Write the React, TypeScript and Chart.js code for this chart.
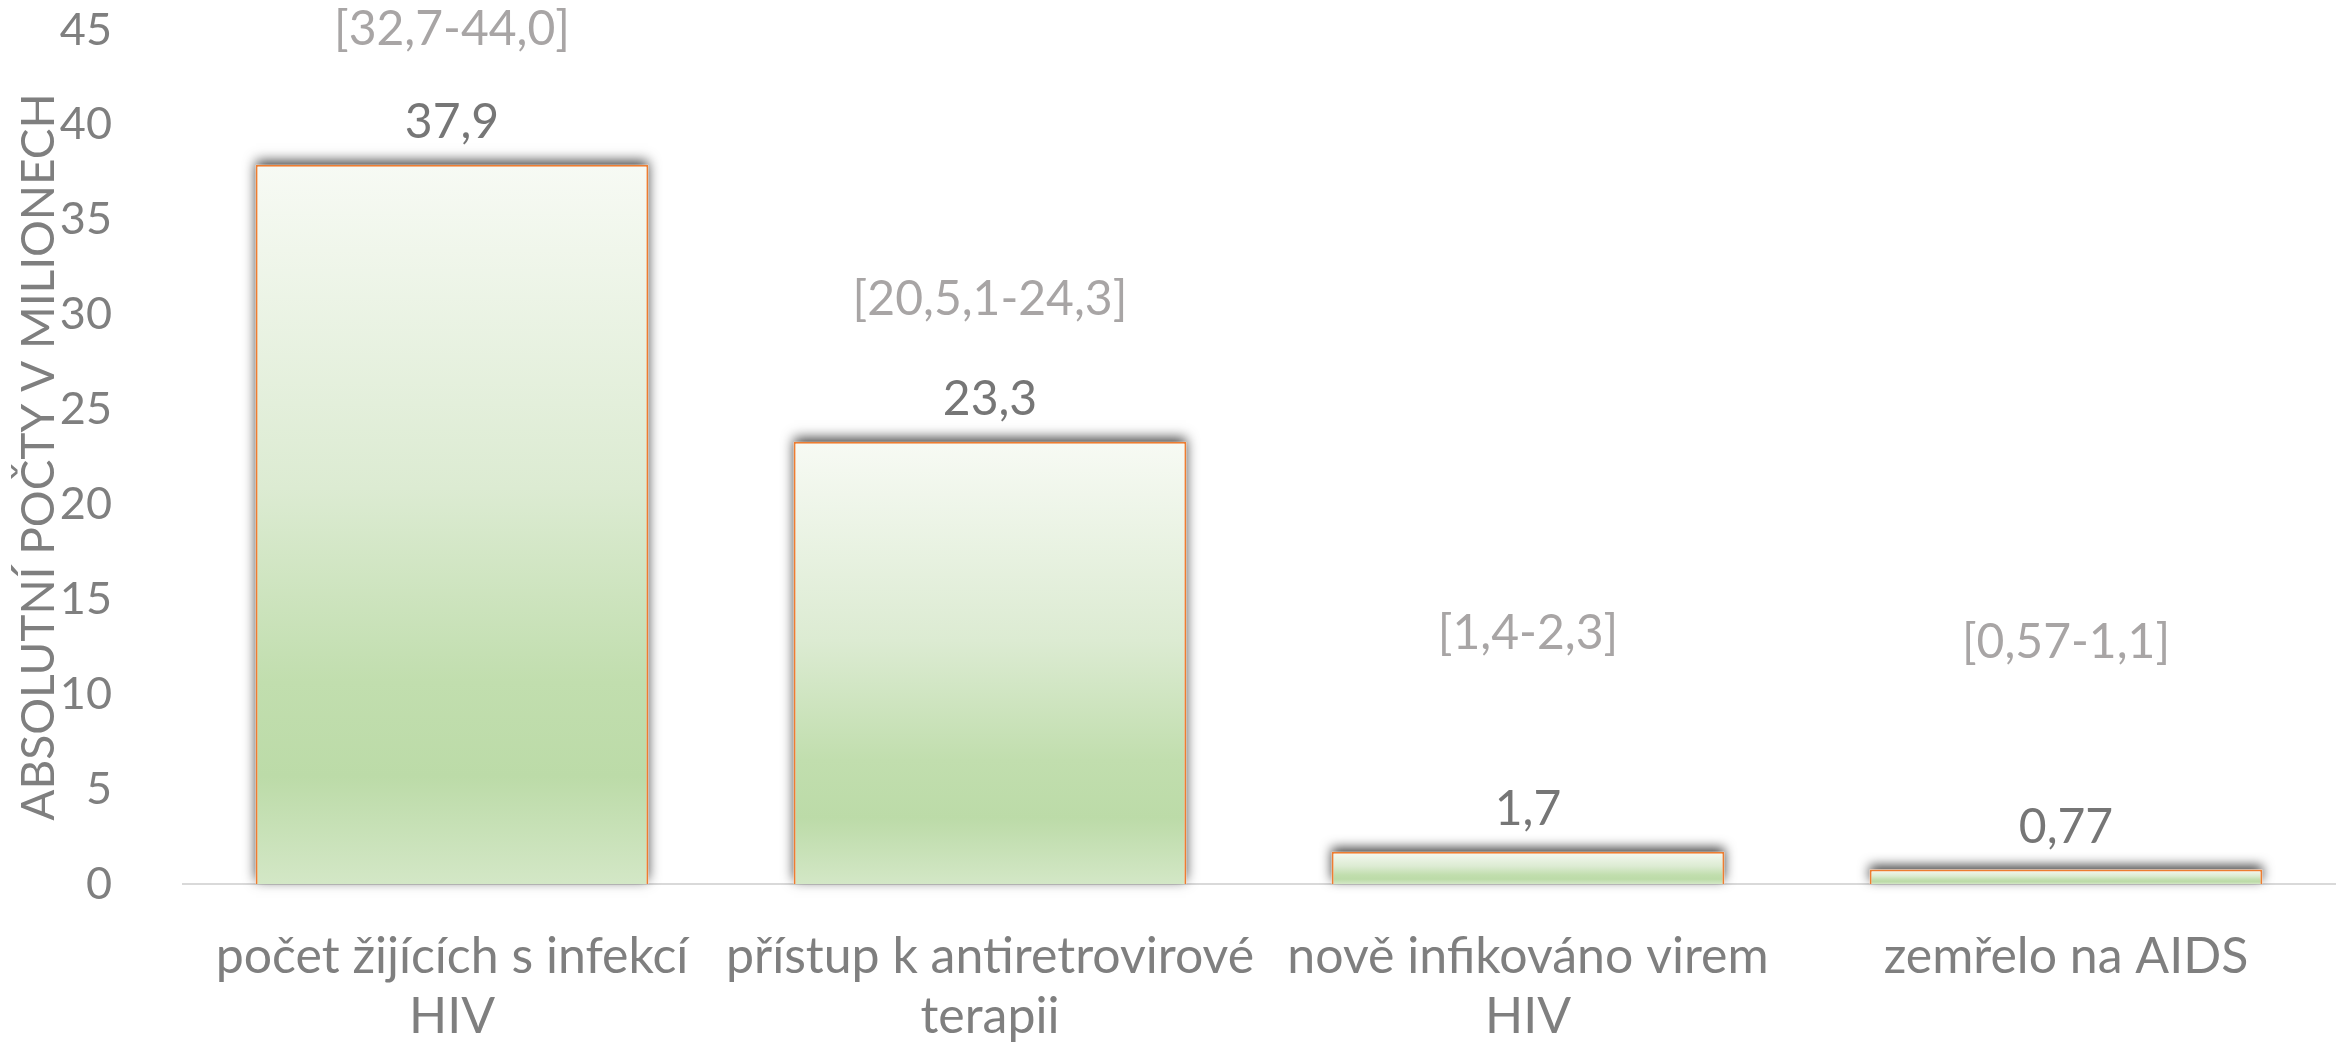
import React, { useEffect, useRef } from 'react';
import { Chart, registerables } from 'chart.js';

Chart.register(...registerables);

// ---- data ----
const categories: (string | string[])[] = [
  ['počet žijících s infekcí', 'HIV'],
  ['přístup k antiretrovirové', 'terapii'],
  ['nově infikováno virem', 'HIV'],
  'zemřelo na AIDS',
];
const values = [37.9, 23.3, 1.7, 0.77];
const valueLabels = ['37,9', '23,3', '1,7', '0,77'];
const rangeLabels = ['[32,7-44,0]', '[20,5,1-24,3]', '[1,4-2,3]', '[0,57-1,1]'];
const rangeLabelLevels = [45.0, 30.8, 13.2, 12.75];
const yMin = 0;
const yMax = 45;
const yStep = 5;
const axisTitle = 'ABSOLUTNÍ POČTY V MILIONECH';

const FONT = 'Lato';
const TICK_COLOR = '#7f7f7f';

const shadowPlugin = {
  id: 'barShadow',
  beforeDatasetsDraw(chart: any) {
    const ctx = chart.ctx;
    const meta = chart.getDatasetMeta(0);
    ctx.save();
    ctx.shadowColor = 'rgba(0,0,0,0.75)';
    ctx.shadowBlur = 12;
    ctx.shadowOffsetY = -4;
    ctx.fillStyle = '#ffffff';
    meta.data.forEach((bar: any) => {
      const { x, y, base, width } = bar.getProps(['x', 'y', 'base', 'width'], true);
      ctx.fillRect(x - width / 2, y, width, base - y);
    });
    ctx.restore();
  },
};

const labelPlugin = {
  id: 'barLabels',
  afterDatasetsDraw(chart: any) {
    const ctx = chart.ctx;
    const meta = chart.getDatasetMeta(0);
    const yScale = chart.scales.y;
    ctx.save();
    ctx.textAlign = 'center';
    ctx.textBaseline = 'middle';
    meta.data.forEach((bar: any, i: number) => {
      const { x, y } = bar.getProps(['x', 'y'], true);
      ctx.font = `48px ${FONT}`;
      ctx.fillStyle = '#767676';
      ctx.fillText(valueLabels[i], x, y - 42);
      ctx.fillStyle = '#a8a5a5';
      ctx.fillText(rangeLabels[i], x, yScale.getPixelForValue(rangeLabelLevels[i]));
    });
    ctx.restore();
  },
};

export default function App() {
  const canvasRef = useRef<HTMLCanvasElement | null>(null);

  useEffect(() => {
    if (!canvasRef.current) return;
    const chart = new Chart(canvasRef.current, {
      type: 'bar',
      data: {
        labels: categories,
        datasets: [
          {
            data: values,
            backgroundColor: (c: any) => {
              const chart = c.chart;
              const { chartArea, scales } = chart;
              if (!chartArea || c.parsed == null) return '#c9e2b9';
              const top = scales.y.getPixelForValue(c.parsed.y);
              const bottom = scales.y.getPixelForValue(0);
              const g = chart.ctx.createLinearGradient(0, top, 0, bottom);
              g.addColorStop(0, '#f7faf4');
              g.addColorStop(0.45, '#dcebd2');
              g.addColorStop(0.72, '#c1deae');
              g.addColorStop(0.85, '#bcdba8');
              g.addColorStop(1, '#d3e7c6');
              return g;
            },
            borderColor: '#ed7d31',
            borderWidth: 2,
            borderSkipped: 'bottom',
            barPercentage: 0.73,
            categoryPercentage: 1,
          },
        ],
      },
      options: {
        animation: false,
        responsive: true,
        maintainAspectRatio: false,
        layout: { padding: { top: 30, right: 11, left: 0, bottom: 0 } },
        plugins: {
          legend: { display: false },
          tooltip: { enabled: false },
        },
        scales: {
          x: {
            grid: { display: false, drawTicks: false },
            border: { display: true, color: '#d9d9d9', width: 2 },
            ticks: {
              color: TICK_COLOR,
              font: { family: FONT, size: 50, lineHeight: 1.2 },
              padding: 43,
              maxRotation: 0,
              autoSkip: false,
            },
            afterFit: (s: any) => {
              s.height = 159;
            },
          },
          y: {
            min: yMin,
            max: yMax,
            grid: { display: false, drawTicks: false },
            border: { display: false },
            ticks: {
              stepSize: yStep,
              color: TICK_COLOR,
              font: { family: FONT, size: 45 },
              padding: 71,
            },
            title: {
              display: true,
              text: axisTitle,
              color: TICK_COLOR,
              font: { family: FONT, size: 46 },
              padding: { top: 12, bottom: 0 },
            },
            afterFit: (s: any) => {
              s.width = 183;
              s.paddingTop = 0;
              s.paddingBottom = 0;
            },
          },
        },
      },
      plugins: [shadowPlugin, labelPlugin],
    });
    return () => chart.destroy();
  }, []);

  return (
    <div style={{ position: 'fixed', left: 0, top: 0, width: 2346, height: 1043, background: '#ffffff' }}>
      <canvas ref={canvasRef} />
    </div>
  );
}
